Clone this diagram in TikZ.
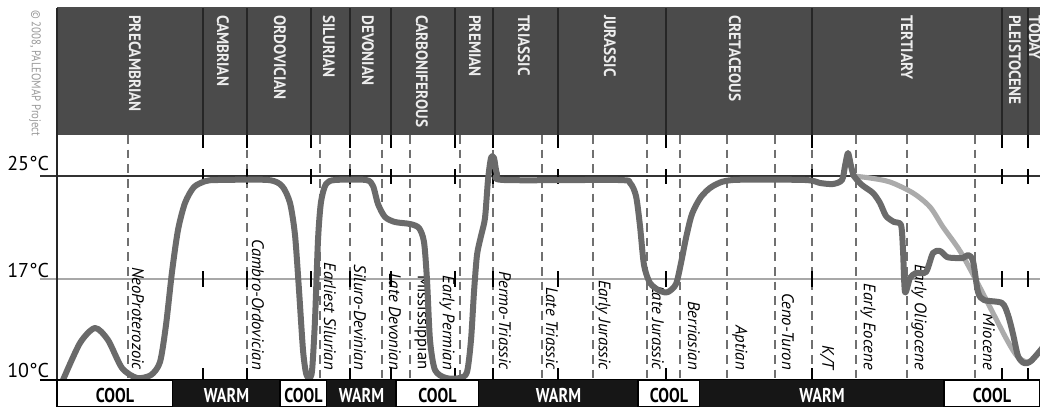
\documentclass[tikz,border=0pt]{standalone}
\usepackage{fontspec}
\setmainfont{PT Sans}
\newfontfamily\hdrfont[FakeStretch=0.92]{PT Sans}
\newfontfamily\barfont[FakeStretch=0.8]{PT Sans}
\newfontfamily\labfont{PT Sans}
\newfontfamily\copyfont[FakeStretch=0.85]{PT Sans}
\definecolor{hdrgray}{HTML}{4B4B4B}
\definecolor{curvegray}{HTML}{6A6A6A}
\definecolor{lightcurve}{HTML}{ABABAB}
\definecolor{dashgray}{HTML}{707070}
\definecolor{midline}{HTML}{A8A8A8}
\definecolor{barblack}{HTML}{161616}
\tikzset{
 period/.style={rotate=-90, anchor=west, inner sep=0pt, text=white!93!black, font=\hdrfont\bfseries\fontsize{12.4}{14}\selectfont},
 epoch/.style={rotate=-90, anchor=east, inner sep=0pt, font=\labfont\itshape\fontsize{12.5}{14}\selectfont},
 bartext/.style={anchor=base, inner sep=0pt, font=\barfont\bfseries\fontsize{15}{17}\selectfont},
 templab/.style={anchor=base west, inner sep=0pt, font=\fontsize{15}{18}\selectfont},
 dashline/.style={draw=dashgray, line width=0.8pt, dash pattern=on 6.5pt off 4.5pt},
 tickline/.style={draw=black, line width=1.1pt},
 sepline/.style={draw=black!85, line width=1pt},
 curve/.style={draw=curvegray, line width=4.5pt, line cap=round, line join=round},
 lcurve/.style={draw=lightcurve, line width=3.8pt, line cap=round, line join=round},
}
\begin{document}
\begin{tikzpicture}[x=0.75pt,y=-0.75pt]
\useasboundingbox (0,0) rectangle (1040,407);
\fill[white] (0,0) rectangle (1040,407);
\clip (0,0) rectangle (1040,407);

% copyright
\node[rotate=-90, anchor=west, inner sep=0pt, text=black!40, font=\copyfont\fontsize{9.5}{11}\selectfont] (copy) at (35,10) {\textcopyright{} 2008, PALEOMAP Project};

% header band
\fill[hdrgray] (57,8) rectangle (1045,135);
\draw[black!70, line width=0.8pt] (57,8) -- (1045,8);
\foreach \x in {57,203,247,311,350,391,455,493,558,666,812,1002,1028}
  \draw[sepline] (\x,8) -- (\x,135);

% period names
\foreach \x/\t [count=\i] in {135/PRECAMBRIAN,223/CAMBRIAN,280/ORDOVICIAN,329/SILURIAN,368/DEVONIAN,422/CARBONIFEROUS,475/PREMIAN,524/TRIASSIC,610/JURASSIC,735/CRETACEOUS,907/TERTIARY,1015/PLEISTOCENE,1035/TODAY}
  \node[period] (per\i) at (\x,15) {\t};

% horizontal temperature lines
\draw[black!80, line width=1pt] (40,176) -- (1040,176);
\draw[midline, line width=1pt] (40,279) -- (1040,279);
\draw[black, line width=1pt] (40,380) -- (1040,380);
\draw[black!85, line width=1pt] (57,135) -- (57,407);

% temperature labels
\node[templab] (t25) at (7,170) {25°C};
\node[templab] (t17) at (7,277) {17°C};
\node[templab] (t10) at (7,377) {10°C};

% dashed epoch lines
\foreach \x in {128,247,320,350,382,410,460,493,542,593,647,680,727,775,812,856,907,975}
  \draw[dashline] (\x,135) -- (\x,380);

% period boundary ticks
\foreach \x in {203,247,311,350,391,455,493,558,666,812,1002,1028}{
  \draw[tickline] (\x,135) -- (\x,148);
  \draw[tickline] (\x,169) -- (\x,184);
  \draw[tickline] (\x,271) -- (\x,287);
  \draw[tickline] (\x,368) -- (\x,380);
}

% epoch labels
\foreach \x/\t [count=\i] in {138/NeoProterozoic,258/Cambro-Ordovician,330/Earliest Silurian,360/Siluro-Devinian,395/Late Devonian,447/Early Permian,505/Permo-Triassic,552/Late Triassic,603/Early Jurassic,658/Late Jurassic,694/Berriasian,740/Aptian,788/Ceno-Turon,827/{K/T},868/Early Eocene,919/Early Oligocene,989/Miocene}
  \node[epoch] (ep\i) at (\x,370) {\t};
\node[epoch, font=\labfont\fontsize{12.5}{14}\selectfont] (miss) at (422,370) {Mississippian};

% light (smoothed) curve
\draw[lcurve] plot[smooth, tension=0.5] coordinates {(853,176) (870,178) (890,182) (913,193) (930,207) (943,227) (960,251) (977,282) (993,313) (1007,340) (1017,356) (1027,362) (1035,357) (1045,343)};

% main temperature curve
\draw[curve] plot[smooth, tension=0.45] coordinates {
 (63,380) (80,343) (95,328) (108,340) (122,368) (137,378) (151,375) (160,362) (166,325) (172,272) (178,230) (185,203) (194,187) (206,181) (218,180)
 (268,180) (282,186) (290,203) (295,235) (299,290) (303,350) (306,373) (309,378) (312,371) (315,320) (318,240) (321,202) (326,184) (335,180)
 (366,180) (373,186) (378,204) (385,217) (395,222) (410,224) (419,228) (424,242) (427,280) (430,340) (435,370) (446,378) (460,378) (467,372) (471,340) (474,292) (477,255) (481,236) (485,218) (488,180) (491,158) (494,158) (497,174) (504,180)
 (618,180) (630,183) (636,196) (640,226) (644,265) (650,283) (660,291) (668,292) (676,284) (681,263) (686,238) (692,214) (701,197) (713,186) (733,180)
 (805,180) (820,183) (833,184) (842,180) (845,166) (848,153) (851,166) (854,176) (862,185) (873,193) (880,203) (886,216) (894,222) (901,225)
 (903,250) (905,292) (910,278) (916,273) (926,272) (933,253) (940,251) (947,257) (955,258) (963,258) (968,255) (973,261) (978,292) (984,300) (1002,303) (1008,315) (1013,334) (1018,356) (1024,363) (1031,361) (1045,345)};

% warm / cool bar
\foreach \a/\b/\t/\c [count=\i] in {57/173/COOL/1,173/280/WARM/0,280/327/COOL/1,327/396/WARM/0,396/479/COOL/1,479/638/WARM/0,638/700/COOL/1,700/944/WARM/0,944/1040/COOL/1}{
  \ifnum\c=1
    \draw[fill=white, draw=black, line width=1pt] (\a,380) rectangle (\b,406.5);
    \node[bartext, text=black] (bar\i) at ({(\a+\b)/2},402) {\t};
  \else
    \fill[barblack] (\a,380) rectangle (\b,407);
    \node[bartext, text=white] (bar\i) at ({(\a+\b)/2},402) {\t};
  \fi
}
\end{tikzpicture}
\end{document}
